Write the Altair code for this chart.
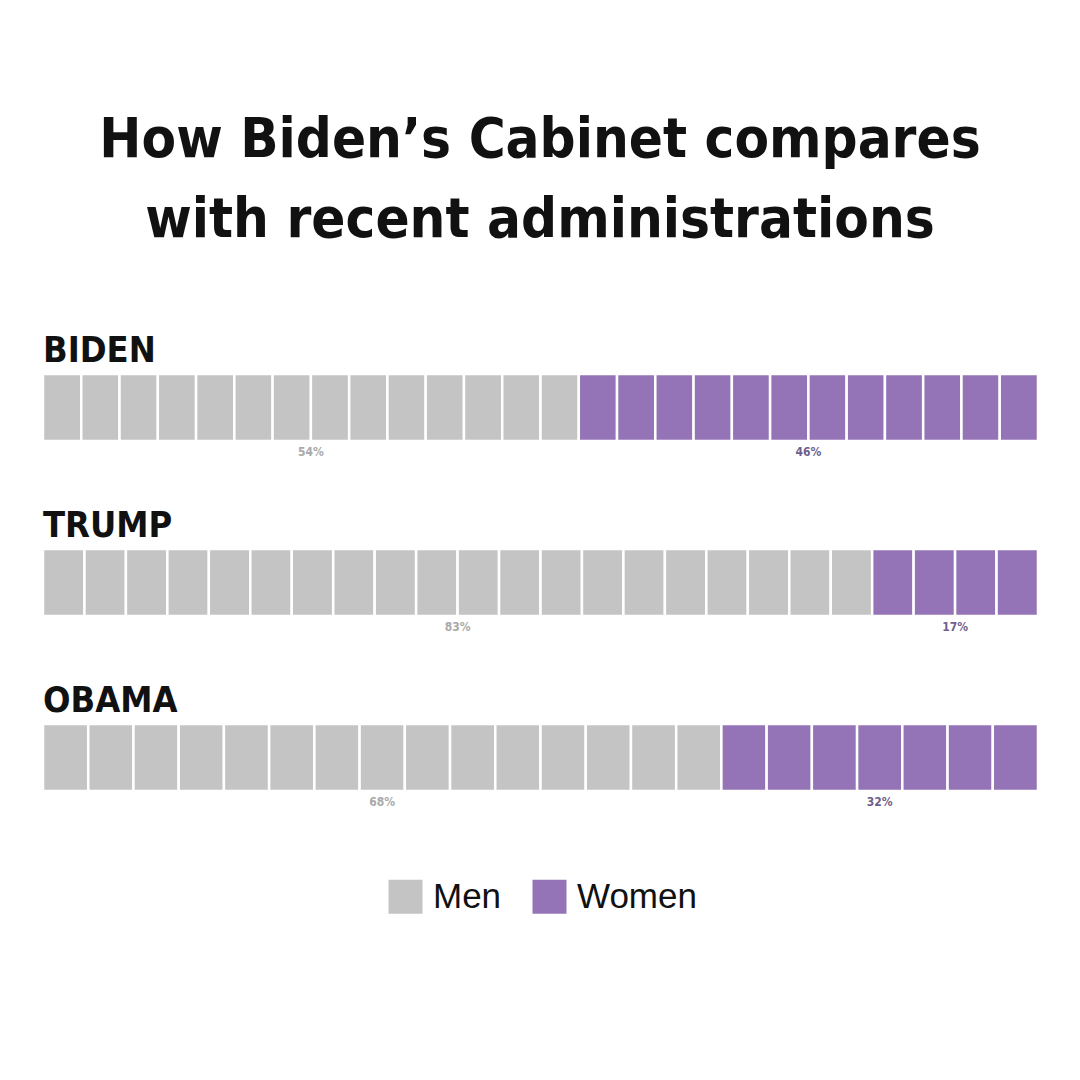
import altair as alt
import pandas as pd

# ---- data ----
admins = ["BIDEN", "TRUMP", "OBAMA"]
men_count = [14, 20, 15]
women_count = [12, 4, 7]
men_pct = ["54%", "83%", "68%"]
women_pct = ["46%", "17%", "32%"]
title_lines = ["How Biden\u2019s Cabinet compares", "with recent administrations"]
genders = ["Men", "Women"]

GRAY = "#c4c4c4"
PURPLE = "#9474b6"
COND = "Liberation Sans Narrow, DejaVu Sans Condensed, sans-serif"
BAR_FRAC = 67 / 175

cells = []
labels = []
for r, (a, m, w, mp, wp) in enumerate(zip(admins, men_count, women_count, men_pct, women_pct)):
    n = m + w
    for i in range(n):
        cells.append({"admin": a, "row": r, "row2": r + BAR_FRAC,
                      "x0": i / n, "x1": (i + 1) / n,
                      "gender": "Men" if i < m else "Women"})
    labels.append({"admin": a, "row": r, "rowb": r + BAR_FRAC, "x": m / (2 * n), "label": mp, "gender": "Men"})
    labels.append({"admin": a, "row": r, "rowb": r + BAR_FRAC, "x": (m + w / 2) / n, "label": wp, "gender": "Women"})

cells_df = pd.DataFrame(cells)
labels_df = pd.DataFrame(labels)
names_df = pd.DataFrame({"admin": admins, "row": list(range(len(admins)))})
title_df = pd.DataFrame({"line": title_lines, "i": list(range(len(title_lines)))})

W, H = 1064, 1064
xs = alt.Scale(domain=[0, 1], range=[35, 1030])
ys = alt.Scale(domain=[0, 3], range=[366, 366 + 525])

bars = alt.Chart(cells_df).mark_rect(stroke="white", strokeWidth=2.5).encode(
    x=alt.X("x0:Q", scale=xs, axis=None),
    x2="x1:Q",
    y=alt.Y("row:Q", scale=ys, axis=None),
    y2="row2:Q",
    color=alt.Color("gender:N", scale=alt.Scale(domain=genders, range=[GRAY, PURPLE]),
                    legend=alt.Legend(title=None, orient="none", legendX=380, legendY=871,
                                      direction="horizontal", symbolType="square",
                                      symbolSize=1156, symbolStrokeWidth=0,
                                      symbolOpacity=1,
                                      labelFont="Liberation Sans, Arial, sans-serif",
                                      labelFontSize=35, labelColor="#111111",
                                      labelOffset=10, columnPadding=30, padding=0)),
)

names = alt.Chart(names_df).mark_text(
    align="left", baseline="alphabetic", dy=-12, font=COND, fontWeight="bold",
    fontSize=36, color="#111111"
).encode(
    x=alt.value(35),
    y=alt.Y("row:Q", scale=ys, axis=None),
    text="admin:N",
)

pct = alt.Chart(labels_df).mark_text(
    align="center", baseline="top", dy=6, font=COND, fontWeight="bold", fontSize=12
).encode(
    x=alt.X("x:Q", scale=xs, axis=None),
    y=alt.Y("rowb:Q", scale=ys, axis=None),
    text="label:N",
    color=alt.Color("gender:N", scale=alt.Scale(domain=genders, range=["#a9a9a9", "#6f5f8c"]), legend=None),
)

title = alt.Chart(title_df).mark_text(
    align="center", baseline="alphabetic", font=COND, fontWeight="bold",
    fontSize=56, color="#111111"
).encode(
    x=alt.value(532),
    y=alt.Y("i:Q", scale=alt.Scale(domain=[0, 1], range=[149, 229]), axis=None),
    text="line:N",
)

chart = alt.layer(bars, names, pct, title).resolve_scale(color="independent", y="independent").properties(
    width=W, height=H, autosize="none", padding=0, background="white",
).configure_view(stroke=None, strokeWidth=0)

chart.save("out.html", embed_options={"renderer": "svg", "actions": False})
